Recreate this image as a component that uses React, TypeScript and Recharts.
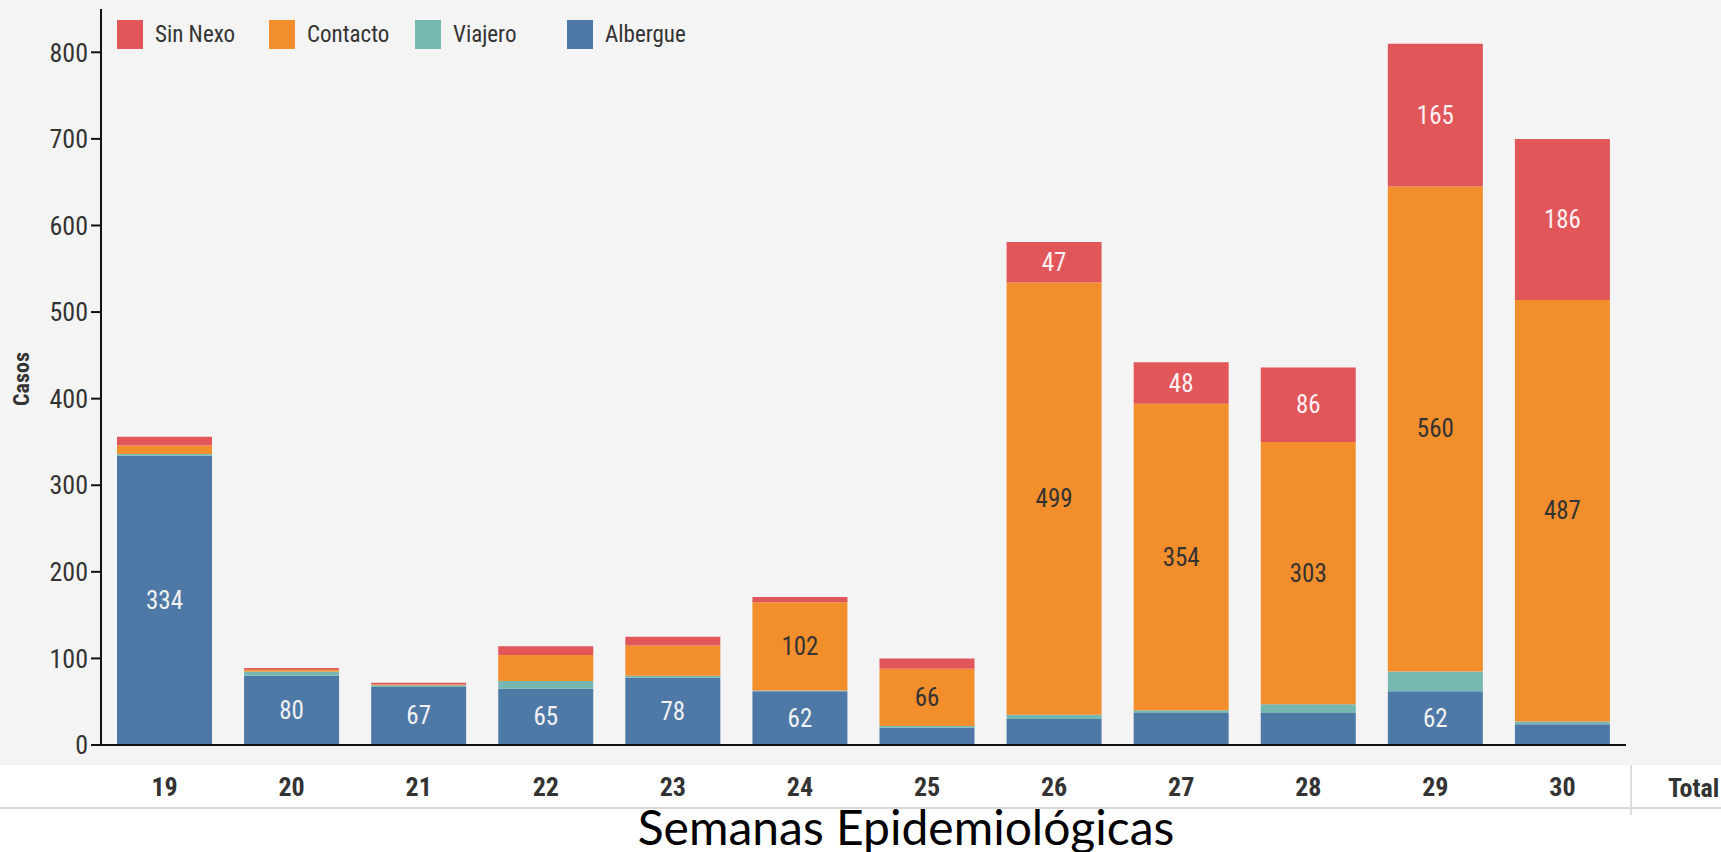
import React from "react";
import { BarChart, Bar, XAxis, YAxis, LabelList } from "recharts";

// Semanas epidemiológicas y casos por tipo de nexo
const weeks = ["19", "20", "21", "22", "23", "24", "25", "26", "27", "28", "29", "30"];
const albergue = [334, 80, 67, 65, 78, 62, 20, 30, 37, 37, 62, 24];
const viajero = [2, 5, 2, 9, 2, 1, 2, 5, 3, 10, 23, 3];
const contacto = [10, 2, 1, 30, 35, 102, 66, 499, 354, 303, 560, 487];
const sinNexo = [10, 2, 2, 10, 10, 6, 12, 47, 48, 86, 165, 186];
const yTicks = [0, 100, 200, 300, 400, 500, 600, 700, 800];

const series = [
  { key: "albergue", name: "Albergue", color: "#4e79a7", labelColor: "#f2f2f2" },
  { key: "viajero", name: "Viajero", color: "#76b7b2", labelColor: "#333333" },
  { key: "contacto", name: "Contacto", color: "#f28e2b", labelColor: "#333333" },
  { key: "sinNexo", name: "Sin Nexo", color: "#e15759", labelColor: "#fff0f5" },
];

const data = weeks.map((week, i) => ({
  week,
  albergue: albergue[i],
  viajero: viajero[i],
  contacto: contacto[i],
  sinNexo: sinNexo[i],
}));

const FONT = "'Liberation Sans Narrow', 'Roboto Condensed', 'Liberation Sans', sans-serif";
const TEXT = "#333333";

// the legend reads top-of-stack first
const legendOrder = ["sinNexo", "contacto", "viajero", "albergue"];
const legendWidths = [152, 146, 152, 150];

function segmentLabel(color: string) {
  return (props: any) => {
    const { x, y, width, height, value } = props;
    if (value == null || value < 45) return null;
    return (
      <text
        x={Number(x) + Number(width) / 2}
        y={Number(y) + Number(height) / 2}
        textAnchor="middle"
        dominantBaseline="central"
        fill={color}
        fontSize={25}
        fontFamily={FONT}
      >
        {value}
      </text>
    );
  };
}

export default function App() {
  return (
    <div
      style={{
        position: "absolute",
        left: 0,
        top: 0,
        width: 1721,
        height: 852,
        background: "#ffffff",
        overflow: "hidden",
      }}
    >
      <div style={{ position: "absolute", left: 0, top: 0, width: 1721, height: 765, background: "#f4f4f4" }} />
      <div style={{ position: "absolute", left: 0, top: 807, width: 1721, height: 2, background: "#d8d8d8" }} />
      <div style={{ position: "absolute", left: 1630, top: 765, width: 2, height: 50, background: "#dcdcdc" }} />

      <div style={{ position: "absolute", left: 0, top: 0 }}>
        <BarChart
          width={1721}
          height={852}
          data={data}
          margin={{ top: 9, right: 95, left: 0, bottom: 0 }}
          barSize={95}
        >
          <XAxis
            dataKey="week"
            height={107}
            tickLine={false}
            tickSize={0}
            tickMargin={33}
            axisLine={{ stroke: "#111111", strokeWidth: 2 }}
            tick={{ fill: TEXT, fontSize: 26, fontFamily: FONT, fontWeight: 700 }}
          />
          <YAxis
            width={101}
            domain={[0, 850]}
            ticks={yTicks}
            interval={0}
            tickSize={10}
            tickMargin={3}
            tickLine={{ stroke: "#111111", strokeWidth: 2 }}
            axisLine={{ stroke: "#111111", strokeWidth: 2 }}
            tick={{ fill: TEXT, fontSize: 26, fontFamily: FONT }}
          />
          {series.map((s) => (
            <Bar key={s.key} dataKey={s.key} name={s.name} stackId="casos" fill={s.color} isAnimationActive={false}>
              <LabelList dataKey={s.key} content={segmentLabel(s.labelColor)} />
            </Bar>
          ))}
        </BarChart>
      </div>

      {/* legend */}
      <div style={{ position: "absolute", left: 117, top: 20, display: "flex", alignItems: "center" }}>
        {legendOrder.map((k, i) => {
          const s = series.find((x) => x.key === k)!;
          return (
            <div key={k} style={{ display: "flex", alignItems: "center", width: legendWidths[i] }}>
              <div style={{ width: 26, height: 29, background: s.color }} />
              <span style={{ marginLeft: 12, fontFamily: FONT, fontSize: 23, color: TEXT }}>{s.name}</span>
            </div>
          );
        })}
      </div>

      {/* y axis title */}
      <div
        style={{
          position: "absolute",
          left: 21,
          top: 379,
          transform: "translate(-50%, -50%) rotate(-90deg)",
          fontFamily: FONT,
          fontWeight: 700,
          fontSize: 22,
          color: TEXT,
          whiteSpace: "nowrap",
        }}
      >
        Casos
      </div>

      {/* header of the totals column */}
      <div
        style={{
          position: "absolute",
          left: 1668,
          top: 775,
          fontFamily: FONT,
          fontWeight: 700,
          fontSize: 26,
          color: TEXT,
          lineHeight: 1,
        }}
      >
        Total
      </div>

      {/* x axis title */}
      <div
        style={{
          position: "absolute",
          left: 906,
          top: 803,
          transform: "translateX(-50%)",
          fontFamily: "Lato, 'Open Sans', sans-serif",
          fontSize: 48,
          lineHeight: 1,
          color: "#000000",
          whiteSpace: "nowrap",
        }}
      >
        Semanas Epidemiológicas
      </div>
    </div>
  );
}
